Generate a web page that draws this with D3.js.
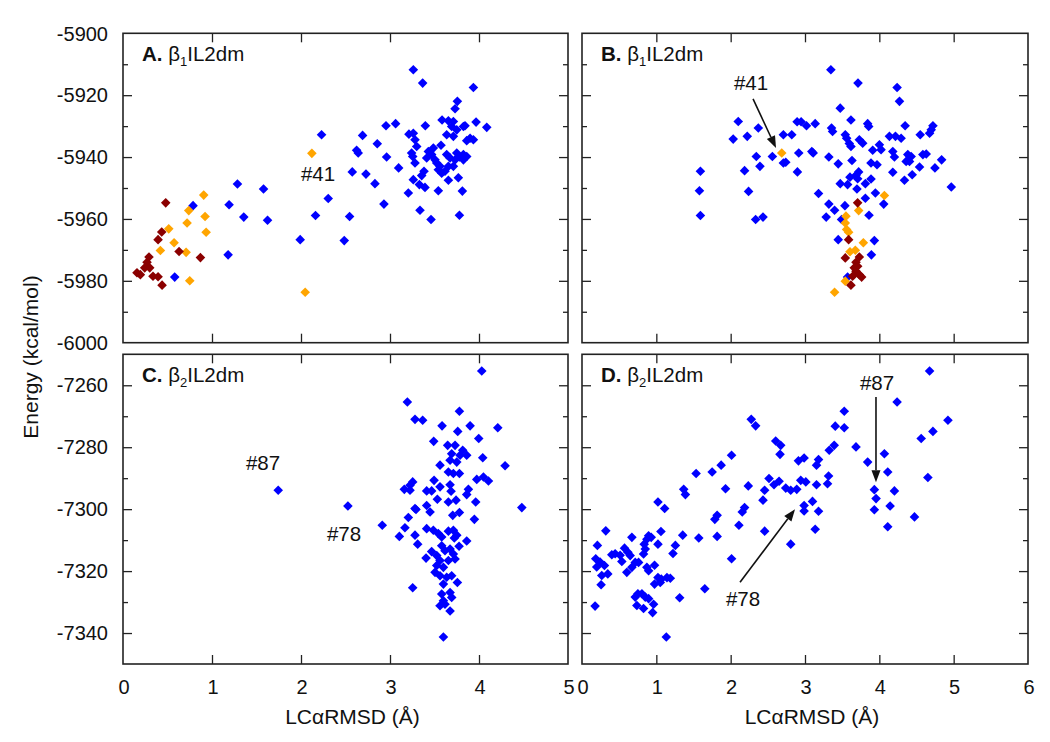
<!DOCTYPE html>
<html><head><meta charset="utf-8">
<script src="https://cdn.jsdelivr.net/npm/d3@7"></script>
<style>body{margin:0;background:#fff} text{font-family:"Liberation Sans",Arial,Helvetica,sans-serif;fill:#111}</style>
</head><body><svg id="c" width="1050" height="742"></svg>
<script>
// ---------- DATA: [LCaRMSD (Å), Energy (kcal/mol)] ----------
const aBlue = [[3.262,-5911.8],[3.367,-5916.1],[3.937,-5917.5],[3.757,-5922.0],[3.731,-5924.4],[3.585,-5928.0],[3.656,-5928.3],[3.712,-5928.5],[3.843,-5929.9],[3.967,-5928.7],[4.087,-5930.4],[2.955,-5929.9],[3.063,-5929.2],[3.397,-5929.9],[3.213,-5932.6],[3.262,-5932.3],[3.281,-5934.4],[3.300,-5936.6],[3.243,-5938.7],[3.255,-5939.8],[3.281,-5941.9],[3.693,-5930.1],[3.750,-5931.2],[3.637,-5932.8],[3.712,-5933.3],[3.825,-5930.1],[3.900,-5933.9],[3.937,-5934.4],[3.862,-5934.7],[3.573,-5936.2],[3.487,-5937.1],[3.431,-5938.2],[3.412,-5940.3],[3.468,-5939.2],[3.506,-5940.9],[3.525,-5941.9],[3.562,-5943.0],[3.581,-5945.2],[3.543,-5944.1],[3.637,-5939.2],[3.675,-5940.3],[3.712,-5943.0],[3.731,-5940.9],[3.750,-5938.7],[3.825,-5939.2],[3.862,-5939.8],[3.825,-5940.9],[3.780,-5940.0],[3.656,-5943.0],[3.618,-5944.6],[2.231,-5932.8],[2.692,-5933.0],[2.857,-5935.7],[2.625,-5937.8],[2.643,-5938.7],[2.962,-5940.0],[3.097,-5943.5],[2.576,-5944.8],[2.730,-5945.5],[2.831,-5948.6],[3.382,-5944.6],[3.356,-5946.0],[3.262,-5947.3],[3.330,-5948.9],[3.393,-5949.8],[3.656,-5947.5],[3.768,-5946.7],[3.206,-5951.6],[3.543,-5950.9],[3.813,-5951.0],[2.932,-5955.2],[3.337,-5957.2],[3.461,-5960.2],[3.780,-5958.8],[1.286,-5948.7],[1.579,-5950.3],[1.192,-5955.4],[1.357,-5959.4],[1.624,-5960.4],[0.787,-5955.7],[2.306,-5953.4],[2.163,-5958.9],[2.546,-5959.2],[1.991,-5966.7],[2.486,-5967.0],[1.181,-5971.6],[0.581,-5978.8]];
const aOrange = [[2.122,-5938.8],[0.907,-5952.3],[0.739,-5957.3],[0.922,-5959.2],[0.720,-5961.3],[0.514,-5963.2],[0.934,-5964.3],[0.574,-5967.7],[0.420,-5970.2],[0.709,-5970.8],[0.750,-5980.0],[2.047,-5983.7]];
const aRed = [[0.480,-5954.8],[0.435,-5964.2],[0.394,-5966.7],[0.630,-5970.5],[0.870,-5972.5],[0.292,-5972.3],[0.270,-5974.0],[0.244,-5975.8],[0.300,-5975.8],[0.157,-5977.4],[0.195,-5978.0],[0.337,-5978.5],[0.394,-5978.7],[0.439,-5981.4]];

const bBlue = [[3.348,-5911.8],[3.713,-5916.1],[4.239,-5917.5],[4.271,-5922.0],[3.474,-5924.2],[3.618,-5928.0],[3.843,-5929.2],[3.857,-5930.1],[4.347,-5929.9],[2.102,-5928.5],[2.034,-5934.2],[2.223,-5933.3],[2.372,-5930.6],[2.894,-5928.6],[2.948,-5928.6],[3.020,-5929.9],[3.137,-5929.2],[3.357,-5930.6],[3.371,-5931.7],[2.709,-5932.8],[2.822,-5932.8],[3.542,-5932.8],[3.560,-5933.9],[3.596,-5935.6],[3.618,-5936.6],[3.731,-5934.4],[3.776,-5935.5],[4.136,-5933.3],[4.217,-5933.3],[4.293,-5933.9],[4.550,-5932.8],[4.676,-5932.3],[4.721,-5929.9],[4.698,-5931.2],[3.911,-5937.8],[4.001,-5936.0],[4.023,-5937.6],[4.181,-5938.2],[4.203,-5940.0],[4.383,-5939.2],[4.428,-5939.8],[4.406,-5941.4],[4.361,-5941.4],[4.586,-5939.2],[4.631,-5939.0],[4.838,-5940.9],[4.748,-5943.5],[4.541,-5943.2],[4.442,-5945.7],[4.181,-5944.9],[4.338,-5947.5],[4.968,-5949.7],[2.345,-5939.8],[2.561,-5939.8],[2.394,-5943.0],[2.187,-5944.4],[2.709,-5941.9],[2.741,-5941.7],[2.916,-5938.7],[3.092,-5938.2],[3.110,-5938.7],[2.898,-5944.8],[3.321,-5940.0],[3.447,-5942.2],[3.632,-5941.1],[3.888,-5941.9],[3.969,-5942.5],[3.722,-5944.8],[3.686,-5945.9],[3.708,-5947.0],[3.605,-5946.5],[3.474,-5948.6],[3.573,-5948.9],[3.812,-5948.6],[3.888,-5947.1],[3.699,-5950.3],[3.812,-5953.3],[3.947,-5951.6],[4.059,-5955.2],[1.593,-5944.6],[1.580,-5950.9],[1.593,-5958.9],[2.241,-5951.1],[2.336,-5960.2],[2.435,-5959.4],[3.182,-5951.8],[3.321,-5955.2],[3.398,-5957.2],[3.285,-5959.4],[3.492,-5960.2],[3.537,-5955.7],[3.861,-5958.8],[3.447,-5966.7],[3.933,-5967.0],[3.893,-5971.6],[3.573,-5978.8]];
const bOrange = [[2.687,-5938.7],[4.068,-5952.4],[3.722,-5957.3],[3.551,-5959.1],[3.542,-5961.3],[3.560,-5963.4],[3.587,-5964.3],[3.785,-5967.7],[3.677,-5970.1],[3.605,-5970.6],[3.542,-5980.1],[3.398,-5983.7]];
const bRed = [[3.708,-5954.8],[3.587,-5966.7],[3.542,-5972.6],[3.731,-5972.3],[3.686,-5974.0],[3.708,-5975.3],[3.663,-5975.8],[3.686,-5976.9],[3.731,-5978.0],[3.762,-5978.8],[3.641,-5978.5],[3.618,-5981.4]];

const cBlue = [[4.031,-7255.4],[3.195,-7265.4],[3.780,-7268.4],[3.281,-7271.0],[3.367,-7271.3],[3.585,-7273.1],[3.900,-7273.1],[4.211,-7273.7],[3.761,-7274.9],[3.997,-7277.2],[3.491,-7278.1],[3.648,-7279.4],[3.731,-7279.4],[3.817,-7281.0],[3.862,-7282.6],[3.787,-7282.6],[3.693,-7282.1],[3.750,-7284.8],[3.675,-7284.2],[3.656,-7288.0],[3.712,-7288.5],[3.780,-7288.5],[4.042,-7283.4],[4.293,-7286.0],[3.562,-7285.8],[3.975,-7290.4],[4.050,-7289.6],[4.106,-7290.9],[3.495,-7290.7],[3.255,-7291.2],[3.225,-7292.3],[3.161,-7293.6],[3.225,-7293.9],[3.412,-7294.1],[3.468,-7294.1],[3.562,-7292.8],[3.675,-7292.1],[3.686,-7294.2],[3.881,-7293.6],[3.862,-7295.3],[3.532,-7296.8],[3.656,-7297.7],[3.742,-7297.1],[3.963,-7297.7],[3.412,-7298.8],[3.450,-7300.9],[3.281,-7299.8],[3.292,-7300.1],[4.481,-7299.5],[3.705,-7302.0],[3.780,-7301.1],[3.206,-7302.7],[3.948,-7303.3],[3.168,-7306.0],[2.913,-7305.2],[2.527,-7299.0],[1.744,-7293.9],[3.105,-7308.8],[3.281,-7308.4],[3.311,-7311.3],[3.412,-7306.3],[3.487,-7306.8],[3.543,-7307.9],[3.581,-7309.0],[3.656,-7307.1],[3.712,-7306.8],[3.750,-7308.4],[3.723,-7309.3],[3.776,-7312.0],[3.862,-7310.3],[3.405,-7315.8],[3.468,-7313.7],[3.525,-7315.0],[3.581,-7311.8],[3.618,-7313.4],[3.675,-7312.9],[3.712,-7314.5],[3.731,-7316.1],[3.656,-7316.6],[3.562,-7316.6],[3.525,-7318.2],[3.600,-7318.8],[3.506,-7320.4],[3.562,-7321.5],[3.637,-7322.0],[3.693,-7321.5],[3.600,-7324.2],[3.675,-7326.9],[3.693,-7328.5],[3.581,-7327.4],[3.600,-7329.6],[3.562,-7331.2],[3.618,-7330.7],[3.675,-7332.9],[3.757,-7323.7],[3.255,-7325.4],[3.600,-7341.3]];

const dBlue = [[4.676,-7255.4],[4.239,-7265.4],[3.528,-7268.4],[4.923,-7271.3],[2.277,-7271.0],[2.336,-7273.1],[3.407,-7273.2],[3.528,-7273.7],[4.721,-7274.9],[4.563,-7277.2],[3.686,-7279.9],[3.393,-7279.4],[3.326,-7281.0],[2.606,-7278.0],[2.673,-7279.4],[2.664,-7282.3],[2.012,-7282.6],[4.068,-7282.1],[4.113,-7288.0],[3.843,-7284.8],[4.653,-7289.8],[2.988,-7283.5],[2.912,-7284.4],[3.182,-7284.0],[3.155,-7285.8],[1.535,-7288.5],[1.751,-7288.0],[1.872,-7285.8],[1.368,-7293.6],[1.391,-7295.3],[1.931,-7293.4],[2.237,-7292.5],[2.516,-7290.1],[2.583,-7292.1],[2.651,-7291.0],[2.457,-7293.9],[2.741,-7293.2],[2.808,-7293.9],[2.889,-7293.6],[2.943,-7290.7],[3.011,-7291.2],[3.155,-7292.1],[3.303,-7291.8],[3.317,-7289.3],[3.933,-7293.7],[3.956,-7296.6],[4.145,-7299.0],[4.203,-7294.1],[3.933,-7300.2],[4.113,-7305.7],[4.473,-7302.5],[1.022,-7297.7],[1.112,-7299.8],[2.435,-7297.1],[3.101,-7297.5],[2.988,-7298.8],[2.988,-7300.6],[3.182,-7300.7],[3.137,-7306.5],[2.187,-7299.5],[2.156,-7300.9],[2.111,-7305.2],[2.457,-7307.1],[1.818,-7302.0],[1.787,-7303.3],[1.818,-7308.8],[1.571,-7309.3],[1.355,-7308.4],[2.808,-7311.3],[2.012,-7316.0],[1.652,-7325.7],[1.314,-7328.6],[1.134,-7341.3],[0.320,-7307.0],[0.207,-7311.7],[0.185,-7316.0],[0.198,-7318.7],[0.243,-7317.1],[0.302,-7318.2],[0.347,-7320.9],[0.266,-7321.4],[0.257,-7324.4],[0.176,-7331.3],[0.401,-7314.7],[0.446,-7314.4],[0.513,-7314.9],[0.572,-7312.6],[0.617,-7313.9],[0.648,-7315.0],[0.536,-7316.9],[0.603,-7320.4],[0.671,-7318.8],[0.671,-7309.1],[0.716,-7317.2],[0.761,-7317.2],[0.828,-7314.5],[0.851,-7312.9],[0.873,-7309.7],[0.896,-7308.6],[0.931,-7309.1],[0.837,-7311.3],[1.022,-7311.3],[1.062,-7307.2],[0.873,-7318.8],[0.896,-7319.9],[0.976,-7318.1],[1.022,-7322.1],[1.067,-7322.6],[0.976,-7324.2],[1.053,-7323.7],[1.143,-7322.1],[1.188,-7322.3],[0.716,-7328.4],[0.752,-7327.3],[0.806,-7327.3],[0.851,-7328.4],[0.896,-7328.9],[0.738,-7331.1],[0.828,-7332.1],[0.963,-7330.7],[0.950,-7333.4],[1.224,-7314.3],[1.256,-7311.7]];

const panelLabels = ["A.", "B.", "C.", "D."];
const panelNames = [["β","1","IL2dm"],["β","1","IL2dm"],["β","2","IL2dm"],["β","2","IL2dm"]];
const topYTicks = [-6000,-5980,-5960,-5940,-5920,-5900];
const bottomYTicks = [-7340,-7320,-7300,-7280,-7260];
const leftXTicks = [0,1,2,3,4,5];
const rightXTicks = [0,1,2,3,4,5,6];
const xTitle = "LCαRMSD (Å)";
const yTitle = "Energy (kcal/mol)";
// annotations: label position, optional arrow from -> to (data units)
const annotations = [
  {panel:0, text:"#41", at:[2.191,-5945.5]},
  {panel:1, text:"#41", at:[2.274,-5916.1], from:[2.301,-5921.2], to:[2.610,-5937.1]},
  {panel:2, text:"#87", at:[1.573,-7285.1]},
  {panel:2, text:"#78", at:[2.483,-7307.8]},
  {panel:3, text:"#87", at:[3.969,-7259.3], from:[3.955,-7263.8], to:[3.955,-7291.3]},
  {panel:3, text:"#78", at:[2.166,-7328.8], from:[2.126,-7323.6], to:[2.866,-7300.0]}
];

// ---------- LAYOUT ----------
const svg = d3.select("#c");
const colBlue = "#0000ff", colOrange = "#ffa500", colRed = "#8b0000";
const xL = d3.scaleLinear().domain([0,5]).range([123,568]);
const xR = d3.scaleLinear().domain([0,6]).range([582,1028]);
const yT = d3.scaleLinear().domain([-6000,-5900]).range([342.7,33.3]);
const yB = d3.scaleLinear().domain([-7350,-7250]).range([664,354.3]);

const panels = [
  {x:xL, y:yT, series:[[aBlue,colBlue],[aOrange,colOrange],[aRed,colRed]], left:true, bottom:false, yt:topYTicks, xt:leftXTicks},
  {x:xR, y:yT, series:[[bBlue,colBlue],[bOrange,colOrange],[bRed,colRed]], left:false, bottom:false, yt:topYTicks, xt:rightXTicks},
  {x:xL, y:yB, series:[[cBlue,colBlue]], left:true, bottom:true, yt:bottomYTicks, xt:leftXTicks},
  {x:xR, y:yB, series:[[dBlue,colBlue]], left:false, bottom:true, yt:bottomYTicks, xt:rightXTicks}
];

const diamond = r => `M0,${-r}L${r},0L0,${r}L${-r},0Z`;

panels.forEach((p, i) => {
  const [x0,x1] = p.x.range(), [y0,y1] = [p.y.range()[1], p.y.range()[0]];
  const g = svg.append("g");
  const yd = p.y.domain();
  const minor = d3.range(yd[0]+10, yd[1], 10);
  const majorY = minor.filter(v => p.yt.includes(v));
  const minorY = minor.filter(v => !p.yt.includes(v));
  const xt = p.x.domain();
  const xTicksInner = p.xt.filter(v => v > xt[0] && v < xt[1]);

  const mk = (axis, tr) => {
    const a = g.append("g").attr("transform", tr).call(axis);
    a.select(".domain").remove();
    a.selectAll("line").attr("stroke","#222").attr("stroke-width",1.3);
    a.selectAll("text").remove();
  };
  mk(d3.axisLeft(p.y).tickValues(majorY).tickSize(-9), `translate(${x0},0)`);
  mk(d3.axisLeft(p.y).tickValues(minorY).tickSize(-5), `translate(${x0},0)`);
  mk(d3.axisRight(p.y).tickValues(majorY).tickSize(-9), `translate(${x1},0)`);
  mk(d3.axisRight(p.y).tickValues(minorY).tickSize(-5), `translate(${x1},0)`);
  mk(d3.axisBottom(p.x).tickValues(xTicksInner).tickSize(-9), `translate(0,${y1})`);
  mk(d3.axisTop(p.x).tickValues(xTicksInner).tickSize(-9), `translate(0,${y0})`);

  p.series.forEach(([data,col]) => {
    g.append("g").selectAll("path").data(data).join("path")
      .attr("transform", d => `translate(${p.x(d[0])},${p.y(d[1])})`)
      .attr("d", diamond(4.8)).attr("fill", col);
  });

  g.append("rect").attr("x",x0).attr("y",y0).attr("width",x1-x0).attr("height",y1-y0)
    .attr("fill","none").attr("stroke","#222").attr("stroke-width",1.6);

  if (p.left) {
    g.append("g").selectAll("text").data(p.yt).join("text")
      .attr("x", x0-15).attr("y", d => p.y(d)).attr("dy","0.36em")
      .attr("text-anchor","end").attr("font-size",20).text(d => d);
  }
  if (p.bottom) {
    g.append("g").selectAll("text").data(p.xt).join("text")
      .attr("x", d => p.x(d)+1).attr("y", 694)
      .attr("text-anchor","middle").attr("font-size",20).text(d => d);
    g.append("text").attr("x", (x0+x1)/2 + 7).attr("y", 724)
      .attr("text-anchor","middle").attr("font-size",21).text(xTitle);
  }

  const t = g.append("text").attr("x", x0+19).attr("y", y0+27.5).attr("font-size",20.5);
  t.append("tspan").attr("font-weight","bold").text(panelLabels[i] + " ");
  t.append("tspan").text(panelNames[i][0]);
  t.append("tspan").attr("font-size",13).attr("dy",5).text(panelNames[i][1]);
  t.append("tspan").attr("dy",-5).text(panelNames[i][2]);
});

annotations.forEach(a => {
  const p = panels[a.panel];
  svg.append("text").attr("x", p.x(a.at[0])).attr("y", p.y(a.at[1])).attr("dy","0.36em")
    .attr("text-anchor","middle").attr("font-size",20.5).text(a.text);
  if (a.from) {
    const fx = p.x(a.from[0]), fy = p.y(a.from[1]), tx = p.x(a.to[0]), ty = p.y(a.to[1]);
    const ang = Math.atan2(ty-fy, tx-fx), L = 12, W = 4.5;
    const bx = tx - L*Math.cos(ang), by = ty - L*Math.sin(ang);
    svg.append("line").attr("x1",fx).attr("y1",fy).attr("x2",bx).attr("y2",by)
      .attr("stroke","#111").attr("stroke-width",1.6);
    const px = -Math.sin(ang)*W, py = Math.cos(ang)*W;
    svg.append("path").attr("d", `M${tx},${ty}L${bx+px},${by+py}L${bx-px},${by-py}Z`).attr("fill","#111");
  }
});

svg.append("text").attr("transform","translate(38,357) rotate(-90)")
  .attr("text-anchor","middle").attr("font-size",21).text(yTitle);
</script></body></html>
